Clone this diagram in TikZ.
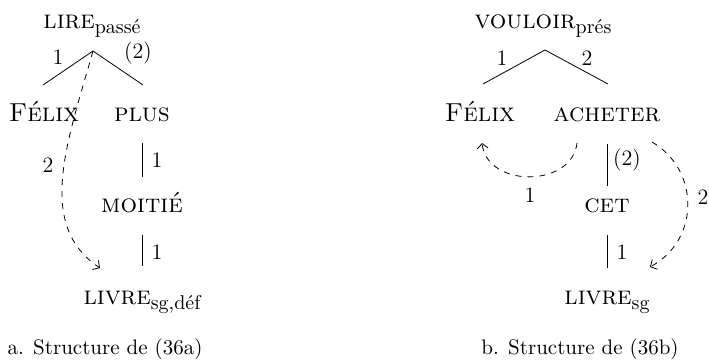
\documentclass[tikz,border=0pt]{standalone}
\usepackage{fontspec}
\usetikzlibrary{arrows.meta}
% subscript on a lexeme
\newcommand{\lexsub}[1]{\raisebox{-2.5pt}{\fontsize{10}{12}\selectfont #1}}
\begin{document}
\begin{tikzpicture}[x=0.5pt, y=-0.5pt,
    word/.style={inner sep=2pt, text height=10pt, text depth=3pt, font=\fontsize{13}{15}\selectfont},
    dep/.style={draw, thin},
    deplab/.style={inner sep=1pt, font=\fontsize{11}{13}\selectfont},
    caption/.style={inner sep=1pt, font=\fontsize{10.5}{12}\selectfont},
    coref/.style={draw, dashed, -{Straight Barb[length=2.5pt,width=5.5pt]}}]
    \useasboundingbox (0,0) rectangle (709,360);

    % tree (a)
    \node[word] (lireA)   at (92,21)  {\textsc{lire}\lexsub{passé}};
    \node[word] (felixA)  at (44,114) {\textsc{Félix}};
    \node[word] (plusA)   at (142,114) {\textsc{plus}};
    \node[word] (moitieA) at (142,205) {\textsc{moitié}};
    \node[word] (livreA)  at (142,297) {\textsc{livre}\lexsub{sg,déf}};
    \node[caption] (capA) at (105,349) {a. Structure de (36a)};
    \coordinate (topA) at (93,51);
    \coordinate (legA1) at (43,85);
    \coordinate (legA2) at (143,85);
    \coordinate (tipA) at (100,268);

    \draw[dep] (legA1) -- (topA) -- (legA2);
    \node[deplab] at (58,57) {1};
    \node[deplab] at (138,53) {(2)};
    \draw[dep, shorten <=6pt, shorten >=5.5pt] (plusA.south) -- (moitieA.north);
    \node[deplab] at (157,160) {1};
    \draw[dep, shorten <=6.5pt, shorten >=7pt] (moitieA.south) -- (livreA.north);
    \node[deplab] at (157,252) {1};

    % antecedent of the second actant
    \draw[coref] (topA) .. controls (68,140) and (35,225) .. (tipA);
    \node[deplab] at (48,165) {2};

    % tree (b)
    \node[word] (vouloirB) at (543,21)  {\textsc{vouloir}\lexsub{prés}};
    \node[word] (felixB)   at (480,114) {\textsc{Félix}};
    \node[word] (acheterB) at (607,114) {\textsc{acheter}};
    \node[word] (cetB)     at (607,205) {\textsc{cet}};
    \node[word] (livreB)   at (607,297) {\textsc{livre}\lexsub{sg}};
    \node[caption] (capB)  at (580,349) {b. Structure de (36b)};
    \coordinate (topB) at (545,50);
    \coordinate (legB1) at (483,84);
    \coordinate (legB2) at (608,84);
    \coordinate (fromB1) at (577,143);
    \coordinate (tipB1) at (482,143);
    \coordinate (fromB2) at (652,142);
    \coordinate (tipB2) at (650,267);

    \draw[dep] (legB1) -- (topB) -- (legB2);
    \node[deplab] at (502,58) {1};
    \node[deplab] at (587,58) {2};
    \draw[dep, shorten <=6.5pt, shorten >=1pt] (acheterB.south) -- (cetB.north);
    \node[deplab] at (627,160) {(2)};
    \draw[dep, shorten <=6.5pt, shorten >=6pt] (cetB.south) -- (livreB.north);
    \node[deplab] at (622,252) {1};

    \draw[coref] (fromB1) .. controls (572,188) and (487,188) .. (tipB1);
    \node[deplab] at (530,195) {1};
    \draw[coref] (fromB2) .. controls (700,170) and (700,240) .. (tipB2);
    \node[deplab] at (703,197) {2};
\end{tikzpicture}
\end{document}
